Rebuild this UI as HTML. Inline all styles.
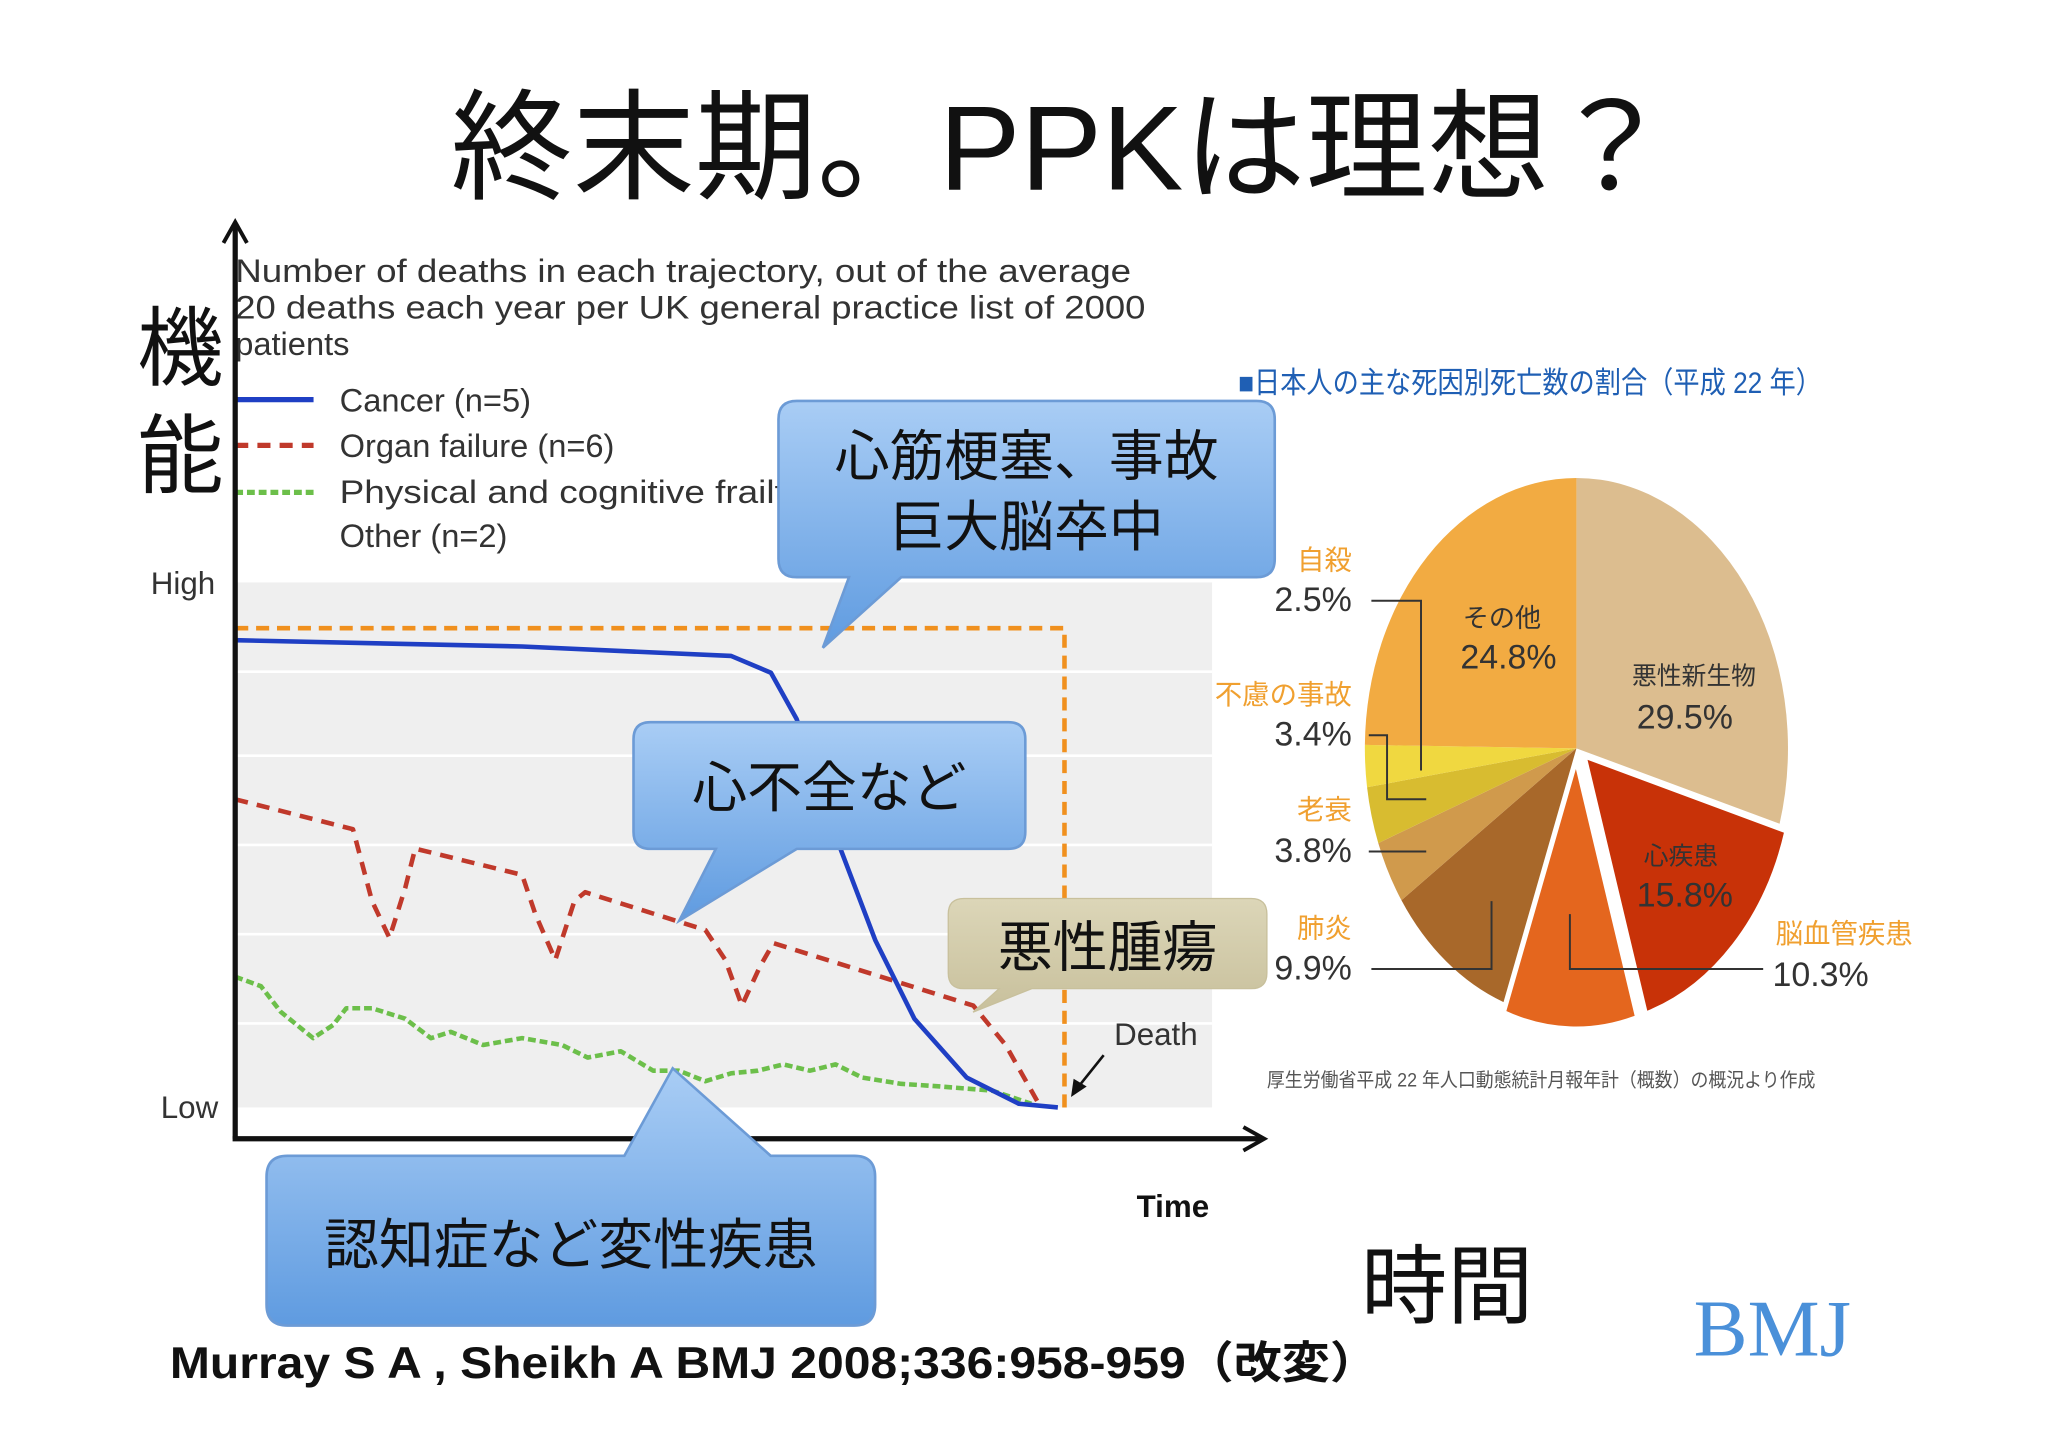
<!DOCTYPE html>
<html><head><meta charset="utf-8">
<style>
html,body{margin:0;padding:0;background:#fff;}
svg{display:block;}
text{font-family:"Liberation Sans","Noto Sans CJK JP",sans-serif;}
</style></head>
<body>
<svg id="root" width="2048" height="1447" viewBox="0 0 1568 1108" xmlns="http://www.w3.org/2000/svg">
<defs>
<linearGradient id="blueg" x1="0" y1="0" x2="0" y2="1">
<stop offset="0" stop-color="#a9cdf5"/><stop offset="1" stop-color="#5f9be0"/>
</linearGradient>
<linearGradient id="beigeg" x1="0" y1="0" x2="0" y2="1">
<stop offset="0" stop-color="#dcd6b8"/><stop offset="1" stop-color="#c8c09c"/>
</linearGradient>
</defs>
<rect width="1568" height="1108" fill="#fff"/>
<text x="345" y="145" font-size="92" textLength="935" lengthAdjust="spacingAndGlyphs" fill="#111">終末期。PPKは理想？</text>

<g id="linechart">
<rect x="180" y="446" width="748" height="402" fill="#efefef"/>
<g id="grid"></g>
<text x="180" y="216" font-size="25" textLength="686" lengthAdjust="spacingAndGlyphs" fill="#333">Number of deaths in each trajectory, out of the average</text>
<text x="180" y="244" font-size="25" textLength="697" lengthAdjust="spacingAndGlyphs" fill="#333">20 deaths each year per UK general practice list of 2000</text>
<text x="180" y="272" font-size="25" fill="#333">patients</text>
<g>
<line x1="180" y1="306" x2="240" y2="306" stroke="#1f3fc4" stroke-width="4"/>
<text x="260" y="315" font-size="25" fill="#333">Cancer (n=5)</text>
<line x1="180" y1="341" x2="240" y2="341" stroke="#c0392b" stroke-width="4" stroke-dasharray="10,7"/>
<text x="260" y="350" font-size="25" fill="#333">Organ failure (n=6)</text>
<line x1="180" y1="377" x2="240" y2="377" stroke="#6cbf4a" stroke-width="4" stroke-dasharray="6,3"/>
<text x="260" y="385" font-size="25" textLength="355" lengthAdjust="spacingAndGlyphs" fill="#333">Physical and cognitive frailty</text>
<text x="260" y="419" font-size="25" fill="#333">Other (n=2)</text>
</g>
<text x="140" y="455" font-size="24" fill="#333" text-anchor="middle">High</text>
<text x="145" y="856" font-size="24" fill="#333" text-anchor="middle">Low</text>
<text x="138" y="290" font-size="66" fill="#111" text-anchor="middle">機</text>
<text x="138" y="372" font-size="66" fill="#111" text-anchor="middle">能</text>
<polyline points="180,481 815,481 815,848" fill="none" stroke="#f0901e" stroke-width="3.5" stroke-dasharray="10,6"/>
<g id="series"></g>
<line x1="180" y1="872" x2="180" y2="172" stroke="#111" stroke-width="4"/>
<polyline points="171,186 180,170 189,186" fill="none" stroke="#111" stroke-width="3"/>
<line x1="178" y1="872" x2="966" y2="872" stroke="#111" stroke-width="4"/>
<polyline points="952,863 968,872 952,881" fill="none" stroke="#111" stroke-width="3"/>
<text x="898" y="932" font-size="24" font-weight="bold" fill="#111" text-anchor="middle">Time</text>
<text x="885" y="800" font-size="24" fill="#333" text-anchor="middle">Death</text>
<line x1="845" y1="808" x2="825" y2="833" stroke="#111" stroke-width="2"/>
<polygon points="820,840 822,826 832,832" fill="#111"/>
</g>

<g>
<path d="M610,307 H962 Q976,307 976,321 V428 Q976,442 962,442 H690 L630,496 L650,442 H610 Q596,442 596,428 V321 Q596,307 610,307 Z" fill="url(#blueg)" stroke="#6c9bd6" stroke-width="2"/>
<text x="786" y="364" font-size="42" text-anchor="middle" fill="#111">心筋梗塞、事故</text>
<text x="786" y="418" font-size="42" text-anchor="middle" fill="#111">巨大脳卒中</text>
</g>
<g>
<path d="M498,553 H772 Q785,553 785,566 V637 Q785,650 772,650 H610 L520,705 L548,650 H498 Q485,650 485,637 V566 Q485,553 498,553 Z" fill="url(#blueg)" stroke="#6c9bd6" stroke-width="2"/>
<text x="635" y="618" font-size="42" text-anchor="middle" fill="#111">心不全など</text>
</g>
<g>
<path d="M220,885 H478 L515,818 L590,885 H654 Q670,885 670,901 V999 Q670,1015 654,1015 H220 Q204,1015 204,999 V901 Q204,885 220,885 Z" fill="url(#blueg)" stroke="#6c9bd6" stroke-width="2"/>
<text x="437" y="968" font-size="42" text-anchor="middle" fill="#111">認知症など変性疾患</text>
</g>
<g>
<path d="M738,688 H958 Q970,688 970,700 V745 Q970,757 958,757 H790 L745,775 L765,757 H738 Q726,757 726,745 V700 Q726,688 738,688 Z" fill="url(#beigeg)" stroke="#c8c09c" stroke-width="1"/>
<text x="848" y="740" font-size="42" text-anchor="middle" fill="#111">悪性腫瘍</text>
</g>

<g id="piechart">
<text x="948" y="301" font-size="23" textLength="447" lengthAdjust="spacingAndGlyphs" fill="#1f5fb4">■日本人の主な死因別死亡数の割合（平成 22 年）</text>
<g id="slices"></g>
<g id="pielabels"></g>
<text x="970" y="832" font-size="15" textLength="420" lengthAdjust="spacingAndGlyphs" fill="#555">厚生労働省平成 22 年人口動態統計月報年計（概数）の概況より作成</text>
</g>

<text x="1108" y="1008" font-size="66" fill="#111" text-anchor="middle">時間</text>
<text x="130" y="1055" font-size="34" font-weight="bold" textLength="925" lengthAdjust="spacingAndGlyphs" fill="#111">Murray S A , Sheikh A BMJ 2008;336:958-959（改変）</text>
<text x="1357" y="1038" font-size="62" fill="#4a90d9" text-anchor="middle" style="font-family:'Liberation Serif',serif">BMJ</text>
</svg>
<script>
const NS='http://www.w3.org/2000/svg';
const cancerT=[0,34.6,59.8,64.6,67.7,72.4,77.2,81.9,88.2,94.5,99.2];
const cancerV=[89,87.8,86,82.8,74,51.7,31.8,16.9,5.7,0.7,0];
const organT=[0,14.2,16.5,18.6,20.5,21.7,34.6,36.2,38.6,40.9,42.2,56.7,59.1,61.1,63.3,64.9,89,92.9,96.9];
const organV=[58.7,53,39.3,32.3,41.8,49.3,44.3,36.8,28.1,39.3,41,33.8,28.1,19.4,26.9,31.3,19.4,11.9,0.7];
const frailT=[0,3.1,5.5,9.4,11.8,13.4,16.5,20.5,23.6,26,29.9,34.6,39.4,42.5,46.5,50.4,53.5,56.7,59.8,63,66.1,69.3,72.4,75.6,80.3,85,91.3,96];
const frailV=[24.9,23.1,18.2,13.2,15.7,18.9,18.9,16.9,13.2,14.4,11.9,13.2,11.9,9.5,10.7,7,7,5,6.5,7,8.2,7,8.2,5.7,4.5,4,3.2,0.7];
const gridLevels=[16,33,50,67,83];
const pieLabels=['悪性新生物','心疾患','脳血管疾患','肺炎','老衰','不慮の事故','自殺','その他'];
const pieValues=[29.5,15.8,10.3,9.9,3.8,3.4,2.5,24.8];

const xS=t=>180+t*6.35;
const yS=v=>848-v*4.02;
const grid=document.getElementById('grid');
gridLevels.forEach((g,i)=>{
  const l=document.createElementNS(NS,'line');
  l.setAttribute('x1',180);l.setAttribute('x2',928);
  l.setAttribute('y1',yS(g));l.setAttribute('y2',yS(g));
  l.setAttribute('stroke','#fff');l.setAttribute('stroke-width','2');
  
  
  grid.appendChild(l);
});
const ser=document.getElementById('series');
function addLine(T,V,color,dash,w,name){
  const p=document.createElementNS(NS,'polyline');
  p.setAttribute('points',T.map((t,i)=>xS(t)+','+yS(V[i])).join(' '));
  p.setAttribute('fill','none');p.setAttribute('stroke',color);
  p.setAttribute('stroke-width',w);p.setAttribute('stroke-linejoin','round');
  if(dash)p.setAttribute('stroke-dasharray',dash);
  
  
  ser.appendChild(p);
}
addLine(frailT,frailV,'#6cbf4a','6,3',3.5,'frailty-line');
addLine(organT,organV,'#c0392b','10,7',3.5,'organ-failure-line');
addLine(cancerT,cancerV,'#1f3fc4','',3.5,'cancer-line');

const cx=1207,cy=573,rx=162,ry=207;
const colors=['#dcbd8f','#c83208','#e4661e','#a8682a','#d09a4c','#d8bc30','#f0d840','#f2ab42'];
const explode=[0,1,1,0,0,0,0,0];
const slices=document.getElementById('slices');
let acc=0;
const pt=(a,dx,dy)=>[cx+dx+rx*Math.sin(a),cy+dy-ry*Math.cos(a)];
pieValues.forEach((v,i)=>{
  const a0=acc/100*2*Math.PI, a1=(acc+v)/100*2*Math.PI; acc+=v;
  const mid=(a0+a1)/2;
  const dx=explode[i]?8*Math.sin(mid):0, dy=explode[i]?-8*Math.cos(mid):0;
  const p0=pt(a0,dx,dy),p1=pt(a1,dx,dy);
  const path=document.createElementNS(NS,'path');
  path.setAttribute('d',`M${cx+dx},${cy+dy} L${p0[0]},${p0[1]} A${rx},${ry} 0 ${v>50?1:0} 1 ${p1[0]},${p1[1]} Z`);
  path.setAttribute('fill',colors[i]);
  path.setAttribute('stroke',explode[i]?'#fff':'none');
  path.setAttribute('stroke-width',explode[i]?4:0);
  
  
  slices.appendChild(path);
});
const pl=document.getElementById('pielabels');
function txt(x,y,s,size,fill,anchor,name){
  const t=document.createElementNS(NS,'text');
  t.setAttribute('x',x);t.setAttribute('y',y);t.setAttribute('font-size',size);
  t.setAttribute('fill',fill);t.setAttribute('text-anchor',anchor||'start');
  t.textContent=s;
  
  
  pl.appendChild(t);
}
function ln(pts){
  const p=document.createElementNS(NS,'polyline');
  p.setAttribute('points',pts);p.setAttribute('fill','none');
  p.setAttribute('stroke','#333');p.setAttribute('stroke-width','1.5');
  
  
  pl.appendChild(p);
}
const pct=i=>pieValues[i].toFixed(1)+'%';
txt(1297,524,pieLabels[0],19,'#333','middle','label-neoplasm');
txt(1290,558,pct(0),26,'#333','middle','value-neoplasm');
txt(1287,662,pieLabels[1],19,'#333','middle','label-heart');
txt(1290,694,pct(1),26,'#333','middle','value-heart');
txt(1150,480,pieLabels[7],20,'#333','middle','label-other');
txt(1155,512,pct(7),26,'#333','middle','value-other');
txt(1412,722,pieLabels[2],21,'#f0a030','middle','label-stroke');
txt(1394,755,pct(2),26,'#333','middle','value-stroke');
txt(1035,718,pieLabels[3],21,'#f0a030','end','label-pneumonia');
txt(1035,750,pct(3),26,'#333','end','value-pneumonia');
txt(1035,627,pieLabels[4],21,'#f0a030','end','label-senility');
txt(1035,660,pct(4),26,'#333','end','value-senility');
txt(1035,539,pieLabels[5],21,'#f0a030','end','label-accident');
txt(1035,571,pct(5),26,'#333','end','value-accident');
txt(1035,436,pieLabels[6],21,'#f0a030','end','label-suicide');
txt(1035,468,pct(6),26,'#333','end','value-suicide');
ln('1050,460 1088,460 1088,590');
ln('1048,563 1062,563 1062,612 1092,612');
ln('1048,652 1092,652');
ln('1050,742 1142,742 1142,690');
ln('1350,742 1202,742 1202,700');
</script>
</body></html>
